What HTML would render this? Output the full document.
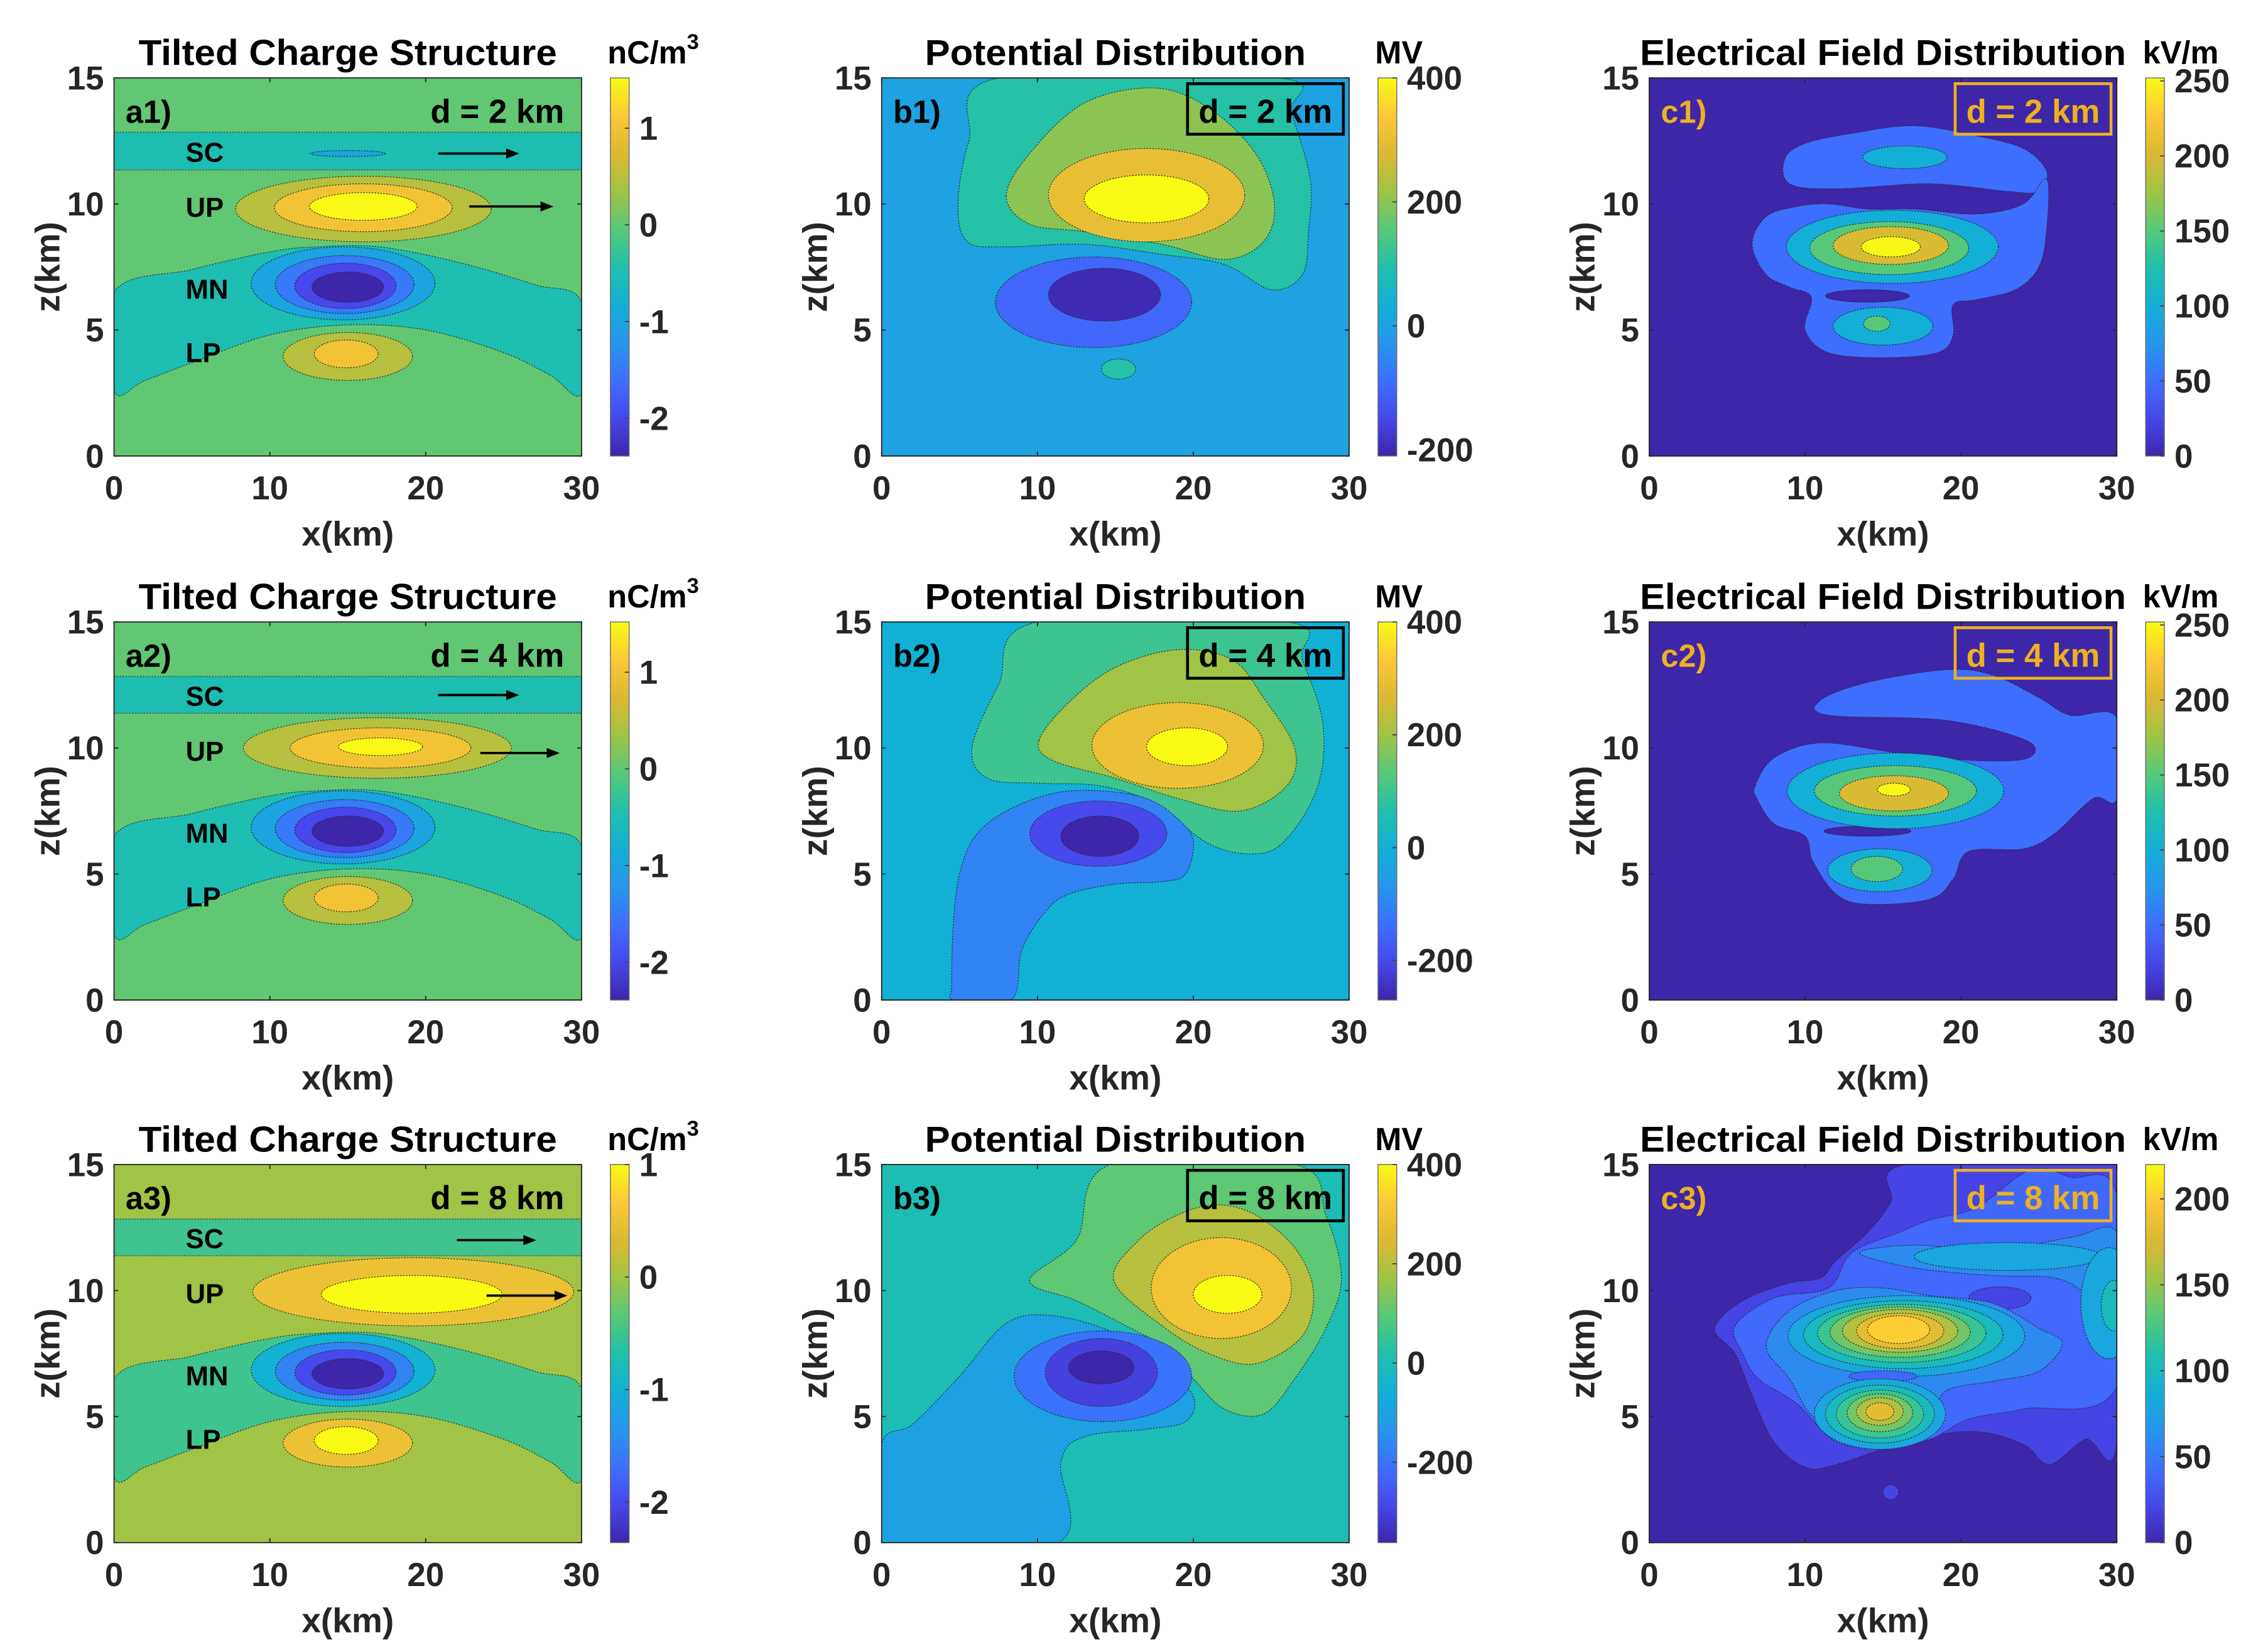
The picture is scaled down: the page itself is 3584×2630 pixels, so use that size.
<!DOCTYPE html>
<html><head><meta charset="utf-8"><title>Charge, potential and field distributions</title>
<style>
html,body{margin:0;padding:0;background:#fff;}
svg{display:block;}
text{font-family:"Liberation Sans Narrow","Liberation Sans",Arial,sans-serif;font-weight:bold;}
</style></head>
<body>
<svg id="fig" xmlns="http://www.w3.org/2000/svg" width="3584" height="2630" viewBox="0 0 1560 1144.8">
<rect x="0" y="0" width="1560" height="1144.8" fill="#fff"/>
</svg>
<script>
// ---------- data ----------
const xTicks = [0, 10, 20, 30];
const zTicks = [0, 5, 10, 15];
const colLeft = [79, 611, 1143];
const rowTop = [54, 431, 807];

const climA1 = [-2.39, 1.52], climA2 = [-2.39, 1.52], climA3 = [-2.36, 1.0];
const climB1 = [-210, 400], climB2 = [-270, 400], climB3 = [-362, 400];
const climC1 = [0, 252], climC2 = [0, 252], climC3 = [0, 220];
const cbTicksA = [-2, -1, 0, 1];
const cbTicksB = [-200, 0, 200, 400];
const cbTicksC12 = [0, 50, 100, 150, 200, 250];
const cbTicksC3 = [0, 50, 100, 150, 200];

// shapes: ['r', level, x0,z0,x1,z1] | ['e', level, cx,cz,rx,rz] | ['p', level, [x,z,...]]
const mnBand = [0,6.5, 5,7.4, 10,8.1, 13,8.3, 17,8.3, 22,7.7, 27,6.8, 30,6.1, 30,2.5, 28,3.2, 25,4.1, 20,5.0, 15,5.2, 10,4.8, 5,3.7, 2,3.0, 0,2.6];
const mnCore = [['e',-1,14.7,6.85,5.9,1.45],['e',-1.5,14.8,6.8,4.45,1.15],['e',-2,14.85,6.75,3.25,0.9],['e',-2.6,15,6.7,2.3,0.6]];
const lpCore = [['e',0.5,15,3.95,4.15,0.95],['e',1,14.9,4.05,2.05,0.55]];

const shapesA1 = [['r',0,0,0,30,15],['p',-0.5,mnBand],['r',-0.5,0,11.35,30,12.85],['e',-1,15,12.0,2.4,0.12],
  ['e',0.5,16,9.8,8.2,1.3],['e',1,16,9.85,5.7,0.95],['e',1.5,16,9.9,3.45,0.55]].concat(mnCore, lpCore);
const shapesA2 = [['r',0,0,0,30,15],['p',-0.5,mnBand],['r',-0.5,0,11.38,30,12.84],
  ['e',0.5,16.9,10,8.6,1.2],['e',1,17.1,10,5.8,0.8],['e',1.5,17.1,10.05,2.7,0.35]].concat(mnCore, lpCore);
const shapesA3 = [['r',0,0,0,30,15],['p',-0.5,mnBand],['r',-0.5,0,11.38,30,12.84],
  ['e',0.5,19.2,9.95,10.3,1.35],['e',1,19.1,9.85,5.8,0.75]].concat(mnCore, [['e',0.5,15,3.95,4.15,0.95],['e',1,14.9,4.05,2.05,0.55]]);

const shapesB1 = [['r',0,0,0,30,15],
  ['p',100,[7.5,15, 5.6,12.5, 4.9,10, 5.5,8.5, 8,8.3, 13,8.4, 18,8.0, 22,7.6, 25,6.6, 27,7.2, 27.4,9, 27.5,11, 26.3,13.6, 25.5,15]],
  ['p',200,[8,10.3, 9.5,12, 13,14, 17.5,14.6, 21,13.8, 24,12, 25.2,10, 24.5,8.5, 22,7.8, 18,8.4, 13,8.9, 9.5,9.2]],
  ['e',300,17,10.35,6.3,1.85],['e',400,17,10.2,4,0.95],
  ['e',-100,13.6,6.1,6.3,1.8],['e',-200,14.3,6.4,3.6,1.05],['e',100,15.2,3.45,1.1,0.4]];
const shapesB2 = [['r',0,0,0,30,15],
  ['p',100,[10,15, 7.5,12.5, 5.8,10, 6.8,8.8, 10,8.6, 14,8.5, 17.5,7.8, 21,6.2, 24,5.8, 26,6.4, 28,8.5, 28.3,11, 27,13.5, 26,15]],
  ['p',200,[10.1,10.3, 12,11.8, 15,13.2, 19,13.9, 22.5,13.5, 24.5,12, 26.5,10, 26,8.5, 23,7.5, 19,8, 15,8.8, 11,9.5]],
  ['e',300,19,10.1,5.5,1.7],['e',400,19.6,10.05,2.6,0.75],
  ['p',-100,[4.7,0, 4.5,0.6, 4.6,3, 5,5, 6,6.5, 8,7.5, 11,8.2, 14,8.3, 17,8.0, 19,7.2, 20,6.3, 19.5,5, 18,4.7, 15,4.6, 12,4.2, 10.5,3.5, 9,2, 8.3,0]],
  ['e',-200,13.9,6.6,4.4,1.3],['e',-270,14,6.5,2.5,0.8]];
const shapesB3 = [['r',0,0,0,30,15],
  ['p',100,[14.7,15, 12.5,12, 9.5,10.4, 12.5,9.6, 16,8.5, 18,7.8, 20,6.5, 22,5.3, 24.5,5.1, 26.5,6.5, 28.5,8.5, 29.5,10.5, 28.5,13, 26.5,15]],
  ['p',200,[14.9,10.4, 16.5,12, 19,13, 21.5,13.4, 24,13, 26.5,11.7, 27.7,10, 27,8.2, 24,7.1, 21,7.5, 18,8.6]],
  ['e',300,21.8,10.1,4.5,2.0],['e',400,22.2,9.85,2.2,0.75],
  ['p',-100,[0,0, 0,3.9, 2,4.7, 5,6.6, 8,8.7, 11,9.0, 15,8.3, 18,7, 20,5.8, 19.5,4.8, 17,4.5, 13,4.2, 11.5,3.2, 11.3,0]],
  ['e',-200,14.2,6.6,5.7,1.8],['e',-300,14.1,6.75,3.6,1.35],['e',-362,14.1,6.95,2.1,0.65]];

const shapesC1 = [['r',0,0,0,30,15],
  ['p',50,[8.7,11.8, 10,12.4, 13,12.8, 17,13.1, 21,12.7, 24,12.2, 25.5,11.3, 25,10.5, 23,10.5, 18,10.8, 12,10.6, 9,10.8]],
  ['p',50,[6.6,8.4, 7.5,9.5, 9.5,9.9, 11.5,10.0, 14,9.8, 17,9.8, 21,9.6, 24,10, 25.5,11, 25.5,9, 25,7.5, 23.5,6.6, 21,6.2, 19.5,6.0, 19.5,4.8, 18.5,4.1, 15,3.9, 11.5,4.1, 10,5, 10.4,6.3, 9,6.7, 7.5,7.2]],
  ['e',0,14,6.35,2.7,0.25],['e',100,16.4,11.85,2.7,0.45],
  ['e',100,15.6,8.3,6.8,1.45],['e',150,15.4,8.25,5.1,1.05],['e',200,15.5,8.35,3.7,0.75],['e',250,15.5,8.3,1.9,0.4],
  ['e',100,15,5.15,3.2,0.75],['e',150,14.6,5.25,0.85,0.3]];
const shapesC2 = [['r',0,0,0,30,15],
  ['p',50,[6.8,8.5, 8,9.6, 11,10.2, 16,9.8, 21,9.5, 24.3,9.6, 24.2,10.3, 19,11.1, 11.5,11.3, 11,11.9, 14,12.6, 19,13.1, 22,12.9, 25,12, 27,11.3, 30,11.2, 30,8.0, 28.5,8.0, 26,6.6, 24,6, 20.5,5.9, 19.5,4.8, 18,4, 14,3.8, 12,4.2, 10.5,5.5, 10,6.5, 8,7, 6.9,8]],
  ['e',0,14,6.7,2.8,0.2],
  ['e',100,15.8,8.3,6.95,1.5],['e',150,15.8,8.3,5.2,1.0],['e',200,15.7,8.2,3.5,0.7],['e',250,15.7,8.35,1.05,0.25],
  ['e',100,14.8,5.15,3.35,0.85],['e',150,14.6,5.2,1.65,0.5]];
const shapesC3 = [['r',0,0,0,30,15],
  ['p',20,[4.2,8.5, 6,9.6, 9,10.3, 11,10.5, 12,11.2, 14,12.3, 15.5,13.5, 16.5,15, 30,15, 30,4, 28,4.1, 25.7,3.1, 24,3.9, 21,4.4, 17,4.1, 12,3.1, 10,3, 8,4, 6.5,6, 5.5,7.5]],
  ['p',40,[5.5,8.6, 8,9.7, 11.5,10.1, 13,11.5, 16,12.3, 18,12.8, 21,13.3, 24.5,14.8, 27,14.5, 30,13.8, 30,6.2, 24,5.3, 20.5,4.9, 18,4.1, 15,3.8, 12,4.0, 9.5,5.5, 7,6.5, 6,7.5]],
  ['p',60,[13.5,11.5, 17,11.8, 22,11.6, 27,12.1, 30,12.3, 30,8.8, 28.5,8.5, 28,9.8, 26,10.5, 22,10.6, 17,10.9]],
  ['e',80,23,11.35,6,0.55],['e',80,29.5,9.5,1.8,2.2],['e',100,29.8,9.4,0.8,1.0],
  ['e',20,22.5,9.7,2,0.45],
  ['p',60,[7.5,7.8, 9,9.2, 12,10.0, 15,10.1, 18,9.8, 22,9.5, 25,8.5, 26.5,7.9, 25,6.8, 22,6.4, 19,6, 18,4.7, 16,4.1, 13,4.2, 10.5,5, 9,6.5]],
  ['e',80,16.5,8.2,7.6,1.6],['e',100,16.3,8.25,6.4,1.35],['e',120,16.2,8.3,5.4,1.15],['e',140,16.1,8.35,4.5,1.0],
  ['e',160,16.1,8.4,3.7,0.85],['e',180,16.1,8.4,2.8,0.7],['e',200,16,8.45,2.0,0.55],
  ['e',40,15,6.6,2.2,0.22],
  ['e',80,14.8,5.1,4.2,1.4],['e',100,14.8,5.1,3.5,1.15],['e',120,14.8,5.1,2.8,0.95],['e',140,14.8,5.15,2.1,0.75],
  ['e',160,14.8,5.2,1.5,0.55],['e',180,14.8,5.2,0.9,0.35],
  ['e',20,15.5,2.0,0.5,0.3]];

// ---------- helpers ----------
const NS = 'http://www.w3.org/2000/svg';
const svg = document.getElementById('fig');
const PW = 324, PH = 262;
const parula = [[0,[62,38,168]],[0.1,[71,71,235]],[0.2,[62,111,254]],[0.3,[39,150,235]],[0.4,[18,176,214]],[0.5,[32,192,170]],[0.6,[90,200,120]],[0.7,[160,195,70]],[0.8,[220,185,50]],[0.9,[252,200,55]],[1,[249,251,20]]];
function cmap(t){
  t = Math.max(0, Math.min(1, t));
  for (let i = 1; i < parula.length; i++) {
    if (t <= parula[i][0]) {
      const a = parula[i-1], b = parula[i], f = (t - a[0]) / (b[0] - a[0]);
      const c = a[1].map((v, k) => Math.round(v + (b[1][k] - v) * f));
      return 'rgb(' + c.join(',') + ')';
    }
  }
  return 'rgb(249,251,20)';
}
function mk(tag, attrs, parent){
  const el = document.createElementNS(NS, tag);
  for (const k in attrs) el.setAttribute(k, attrs[k]);
  (parent || svg).appendChild(el);
  return el;
}
function txt(str, x, y, size, anchor, parent, fill){
  const t = mk('text', {x: x, y: y, 'font-size': size, 'text-anchor': anchor || 'middle'}, parent);
  t.style.fill = fill || '#000';
  t.textContent = str;
  return t;
}
function smoothPath(pts){
  const n = pts.length;
  let d = 'M' + pts[0][0].toFixed(2) + ',' + pts[0][1].toFixed(2);
  for (let i = 0; i < n; i++) {
    const p0 = pts[(i - 1 + n) % n], p1 = pts[i], p2 = pts[(i + 1) % n], p3 = pts[(i + 2) % n];
    const c1 = [p1[0] + (p2[0] - p0[0]) / 6, p1[1] + (p2[1] - p0[1]) / 6];
    const c2 = [p2[0] - (p3[0] - p1[0]) / 6, p2[1] - (p3[1] - p1[1]) / 6];
    d += 'C' + c1.join(',') + ' ' + c2.join(',') + ' ' + p2.join(',');
  }
  return d + 'Z';
}

function panel(id, col, row, shapes, clim, cbTicks, title, unit, label, dText, style, arrows){
  const px0 = colLeft[col], py0 = rowTop[row];
  const sx = x => px0 + x / 30 * PW;
  const sz = z => py0 + PH - z / 15 * PH;
  const frac = v => (v - clim[0]) / (clim[1] - clim[0]);
  const g = mk('g', {});
  
  
  const clipId = 'clip-' + id;
  const cp = mk('clipPath', {id: clipId}, g);
  mk('rect', {x: px0, y: py0, width: PW, height: PH}, cp);
  const plot = mk('g', {'clip-path': 'url(#' + clipId + ')'}, g);
  
  
  shapes.forEach(s => {
    const fill = cmap(frac(s[1]));
    let el;
    if (s[0] === 'r') {
      el = mk('rect', {x: sx(s[2]), y: sz(s[5]), width: sx(s[4]) - sx(s[2]), height: sz(s[3]) - sz(s[5]), fill: fill}, plot);
      if (s[3] > 0) el.setAttribute('stroke', '#333'), el.setAttribute('stroke-width', '0.5'), el.setAttribute('stroke-dasharray', '1 1');
    } else if (s[0] === 'e') {
      el = mk('ellipse', {cx: sx(s[2]), cy: sz(s[3]), rx: s[4] / 30 * PW, ry: s[5] / 15 * PH, fill: fill, stroke: '#222', 'stroke-width': '0.5', 'stroke-dasharray': '1 1'}, plot);
    } else {
      const arr = s[2], pts = [];
      for (let i = 0; i < arr.length; i += 2) pts.push([sx(arr[i]), sz(arr[i + 1])]);
      el = mk('path', {d: smoothPath(pts), fill: fill, stroke: '#222', 'stroke-width': '0.5', 'stroke-dasharray': '1 1'}, plot);
    }
    
    
  });
  const fr = mk('rect', {x: px0, y: py0, width: PW, height: PH, fill: 'none', stroke: '#262626', 'stroke-width': '0.8'}, g);
  
  
  xTicks.forEach(v => {
    mk('line', {x1: sx(v), x2: sx(v), y1: py0 + PH, y2: py0 + PH - 3, stroke: '#262626', 'stroke-width': '0.8'}, g);
    mk('line', {x1: sx(v), x2: sx(v), y1: py0, y2: py0 + 3, stroke: '#262626', 'stroke-width': '0.8'}, g);
    const t = txt(String(v), sx(v), py0 + PH + 30, 23, 'middle', g, '#262626');
    
    
  });
  zTicks.forEach(v => {
    mk('line', {x1: px0, x2: px0 + 3, y1: sz(v), y2: sz(v), stroke: '#262626', 'stroke-width': '0.8'}, g);
    mk('line', {x1: px0 + PW, x2: px0 + PW - 3, y1: sz(v), y2: sz(v), stroke: '#262626', 'stroke-width': '0.8'}, g);
    const t = txt(String(v), px0 - 7, sz(v) + 8, 23, 'end', g, '#262626');
    
    
  });
  const xl = txt('x(km)', px0 + PW / 2, py0 + PH + 62, 24, 'middle', g, '#262626');
  
  
  const yl = txt('z(km)', 0, 0, 24, 'middle', g, '#262626');
  yl.setAttribute('transform', 'translate(' + (px0 - 38) + ',' + (py0 + PH / 2) + ') rotate(-90)');
  
  
  const ti = txt(title.text, px0 + PW / 2, py0 - 9, 25, 'middle', g);
  ti.setAttribute('textLength', title.len);
  ti.setAttribute('lengthAdjust', 'spacingAndGlyphs');
  
  
  const cbx = px0 + PW + 20, cbw = 13;
  const gid = 'grad-' + id;
  const lg = mk('linearGradient', {id: gid, x1: 0, y1: 1, x2: 0, y2: 0}, g);
  parula.forEach(s => mk('stop', {offset: s[0], 'stop-color': cmap(s[0])}, lg));
  const cb = mk('rect', {x: cbx, y: py0, width: cbw, height: PH, fill: 'url(#' + gid + ')', stroke: '#666', 'stroke-width': '0.6'}, g);
  
  
  cbTicks.forEach(v => {
    const y = py0 + PH - frac(v) * PH;
    mk('line', {x1: cbx + cbw - 3, x2: cbx + cbw, y1: y, y2: y, stroke: '#444', 'stroke-width': '0.8'}, g);
    const t = txt(String(v), cbx + cbw + 7, y + 8, 23, 'start', g, '#262626');
    
    
  });
  const un = txt(unit, cbx - 2, py0 - 10, 22, 'start', g, '#000');
  
  
  if (unit === 'nC/m') {
    const sup = mk('tspan', {dy: -10, 'font-size': 15}, un);
    sup.textContent = '3';
  }
  const col2 = style === 'c' ? '#EDB120' : '#000';
  const pl = txt(label, px0 + 8, py0 + 31, 22, 'start', g, col2);
  
  
  if (style !== 'a') {
    const bx = mk('rect', {x: px0 + 212, y: py0 + 4, width: 108, height: 35, fill: 'none', stroke: style === 'c' ? '#EDB120' : '#000', 'stroke-width': 2}, g);
    
    
  }
  const dt = txt(dText, px0 + 266, py0 + 31, 23, 'middle', g, col2);
  if (style === 'a') { dt.setAttribute('x', px0 + 312); dt.setAttribute('text-anchor', 'end'); }
  
  
  if (style === 'a') {
    const layers = [['SC', 12.08], ['UP', 9.9], ['MN', 6.64], ['LP', 4.12]];
    layers.forEach(l => {
      const t = txt(l[0], sx(4.6), sz(l[1]) + 7, 19, 'start', g);
      
      
    });
    arrows.forEach(a => {
      const x1 = sx(a[0]), x2 = sx(a[1]), y = sz(a[2]);
      const ar = mk('g', {}, g);
      
      
      mk('line', {x1: x1, x2: x2 - 4, y1: y, y2: y, stroke: '#000', 'stroke-width': 1.6}, ar);
      mk('path', {d: 'M' + x2 + ',' + y + 'l-9,-3.5l0,7z', fill: '#000'}, ar);
    });
  }
}

const titleA = {text: 'Tilted Charge Structure', len: 290};
const titleB = {text: 'Potential Distribution', len: 264};
const titleC = {text: 'Electrical Field Distribution', len: 337};
const arrowsA1 = [[20.8, 26.0, 12.0], [22.8, 28.2, 9.9]];
const arrowsA2 = [[20.8, 26.0, 12.1], [23.5, 28.6, 9.8]];
const arrowsA3 = [[22.0, 27.1, 12.0], [23.9, 29.1, 9.8]];

panel('a1', 0, 0, shapesA1, climA1, cbTicksA, titleA, 'nC/m', 'a1)', 'd = 2 km', 'a', arrowsA1);
panel('a2', 0, 1, shapesA2, climA2, cbTicksA, titleA, 'nC/m', 'a2)', 'd = 4 km', 'a', arrowsA2);
panel('a3', 0, 2, shapesA3, climA3, cbTicksA, titleA, 'nC/m', 'a3)', 'd = 8 km', 'a', arrowsA3);
panel('b1', 1, 0, shapesB1, climB1, cbTicksB, titleB, 'MV', 'b1)', 'd = 2 km', 'b', []);
panel('b2', 1, 1, shapesB2, climB2, cbTicksB, titleB, 'MV', 'b2)', 'd = 4 km', 'b', []);
panel('b3', 1, 2, shapesB3, climB3, cbTicksB, titleB, 'MV', 'b3)', 'd = 8 km', 'b', []);
panel('c1', 2, 0, shapesC1, climC1, cbTicksC12, titleC, 'kV/m', 'c1)', 'd = 2 km', 'c', []);
panel('c2', 2, 1, shapesC2, climC2, cbTicksC12, titleC, 'kV/m', 'c2)', 'd = 4 km', 'c', []);
panel('c3', 2, 2, shapesC3, climC3, cbTicksC3, titleC, 'kV/m', 'c3)', 'd = 8 km', 'c', []);
</script>
</body></html>
